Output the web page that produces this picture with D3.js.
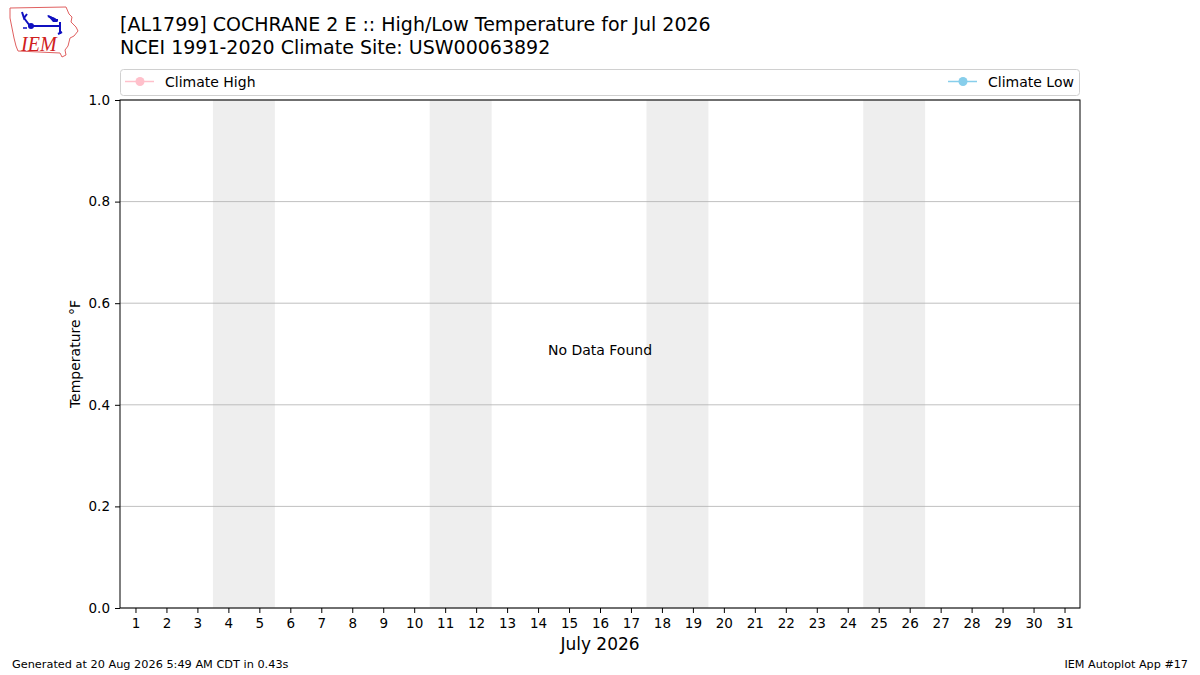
<!DOCTYPE html>
<html>
<head>
<meta charset="utf-8">
<script src="https://cdn.jsdelivr.net/npm/d3@7"></script>
<style>
  body { margin: 0; background: #fff; }
  svg { font-family: "DejaVu Sans", sans-serif; }
</style>
</head>
<body>
<div id="chart"></div>
<script>
var svgWidth = 1200;
var svgHeight = 675;

var margin = { top: 100, right: 120, bottom: 67, left: 120 };
var width = svgWidth - margin.left - margin.right;
var height = svgHeight - margin.top - margin.bottom;

// data
var days = d3.range(1, 32);
var weekendStarts = [4, 11, 18, 25];
var yTicks = [0.0, 0.2, 0.4, 0.6, 0.8, 1.0];
var legendNames = ["Climate High", "Climate Low"];
var legendColors = ["pink", "skyblue"];
var titleLines = [
  "[AL1799] COCHRANE 2 E :: High/Low Temperature for Jul 2026",
  "NCEI 1991-2020 Climate Site: USW00063892"
];

var svg = d3.select("#chart")
  .append("svg")
  .attr("width", svgWidth)
  .attr("height", svgHeight);

var chartGroup = svg.append("g")
  .attr("transform", `translate(${margin.left}, ${margin.top})`);

var xScale = d3.scaleLinear().domain([0.5, 31.5]).range([0, width]);
var yScale = d3.scaleLinear().domain([0, 1]).range([height, 0]);

// weekend shading
chartGroup.selectAll("rect.weekend")
  .data(weekendStarts)
  .enter()
  .append("rect")
  .attr("class", "weekend")
  .attr("x", d => xScale(d - 0.5))
  .attr("width", d => xScale(d + 1.5) - xScale(d - 0.5))
  .attr("y", 0)
  .attr("height", height)
  .attr("fill", "#eeeeee");

// horizontal grid
chartGroup.selectAll("line.grid")
  .data(yTicks)
  .enter()
  .append("line")
  .attr("x1", 0)
  .attr("x2", width)
  .attr("y1", d => yScale(d))
  .attr("y2", d => yScale(d))
  .attr("stroke", "#b0b0b0")
  .attr("stroke-width", 0.8);

// axes
var bottomAxis = d3.axisBottom(xScale).tickValues(days).tickSize(5).tickPadding(5);
var leftAxis = d3.axisLeft(yScale).tickValues(yTicks).tickFormat(d3.format(".1f")).tickSize(5).tickPadding(5);

var xAxis = chartGroup.append("g")
  .attr("transform", `translate(0, ${height})`)
  .call(bottomAxis);
var yAxis = chartGroup.append("g").call(leftAxis);

[xAxis, yAxis].forEach(function(ax) {
  ax.select(".domain").remove();
  ax.selectAll("text").attr("font-size", 13.5).attr("fill", "#000").attr("font-family", "DejaVu Sans");
  ax.selectAll("line").attr("stroke", "#000").attr("stroke-width", 1);
});

// frame
chartGroup.append("rect")
  .attr("width", width)
  .attr("height", height)
  .attr("fill", "none")
  .attr("stroke", "#000")
  .attr("stroke-width", 1);

chartGroup.append("text")
  .attr("x", width / 2)
  .attr("y", yScale(0.5) + 0.5)
  .attr("text-anchor", "middle")
  .attr("font-size", 14)
  .text("No Data Found");

// axis labels
chartGroup.append("text")
  .attr("transform", "rotate(-90)")
  .attr("x", -height / 2)
  .attr("y", -40)
  .attr("text-anchor", "middle")
  .attr("font-size", 14)
  .text("Temperature °F");

chartGroup.append("text")
  .attr("x", width / 2)
  .attr("y", height + 42)
  .attr("text-anchor", "middle")
  .attr("font-size", 17)
  .text("July 2026");

// titles
svg.selectAll("text.title")
  .data(titleLines)
  .enter()
  .append("text")
  .attr("class", "title")
  .attr("x", 120)
  .attr("y", (d, i) => 31 + i * 23)
  .attr("font-size", 19)
  .text(d => d);

// legend
var legend = svg.append("g").attr("transform", "translate(120, 69)");
legend.append("rect")
  .attr("x", 0.5).attr("y", 0.5)
  .attr("width", width - 1).attr("height", 26)
  .attr("rx", 3)
  .attr("fill", "#fff")
  .attr("stroke", "#d0d0d0");

var legendItems = legend.selectAll("g.item")
  .data(legendNames)
  .enter()
  .append("g")
  .attr("class", "item")
  .attr("transform", (d, i) => i === 0 ? "translate(5, 12.5)" : "translate(828, 12.5)");

legendItems.append("line")
  .attr("x1", 0).attr("x2", 29)
  .attr("stroke", (d, i) => legendColors[i])
  .attr("stroke-width", 1.5);
legendItems.append("circle")
  .attr("cx", 15).attr("r", 4.5)
  .attr("fill", (d, i) => legendColors[i]);
legendItems.append("text")
  .attr("x", 40).attr("y", 5)
  .attr("font-size", 14)
  .text(d => d);

// footer
svg.append("text")
  .attr("x", 12).attr("y", 668)
  .attr("font-size", 11.3)
  .text("Generated at 20 Aug 2026 5:49 AM CDT in 0.43s");
svg.append("text")
  .attr("x", 1188).attr("y", 668)
  .attr("text-anchor", "end")
  .attr("font-size", 11.2)
  .text("IEM Autoplot App #17");

// logo (rough sketch of the IEM mark)
var logo = svg.append("g");
logo.append("path")
  .attr("d", "M10,8 L66,7 L69,14 L72,17 L71,22 L76,27 L78,31 L74,36 L70,38 L68,46 L65,50 L66,55 L62,57 L60,53 L18,51 L16,46 L14,38 L12,28 L10,18 Z")
  .attr("fill", "none")
  .attr("stroke", "#e06060")
  .attr("stroke-width", 1);
logo.append("path")
  .attr("d", "M30,26 L60,26 M30,26 L24,18 M22,12 L24,18 L27,14 M60,22 L60,34 M58,34 L62,32 M48,16 L56,20 L58,20")
  .attr("fill", "none")
  .attr("stroke", "#1010c0")
  .attr("stroke-width", 2);
logo.append("path")
  .attr("d", "M47,15 L55,18 L58,22 L53,22 Z")
  .attr("fill", "#1010c0");
logo.append("circle").attr("cx", 31).attr("cy", 26).attr("r", 3).attr("fill", "#1010c0");
logo.append("circle").attr("cx", 24).attr("cy", 28).attr("r", 1).attr("fill", "#1010c0");
logo.append("circle").attr("cx", 26).attr("cy", 28).attr("r", 1).attr("fill", "#1010c0");
logo.append("text")
  .attr("x", 21).attr("y", 51)
  .attr("font-family", "Liberation Serif")
  .attr("font-style", "italic")
  .attr("font-size", 20)
  .attr("fill", "#d02020")
  .text("IEM");
</script>
</body>
</html>
